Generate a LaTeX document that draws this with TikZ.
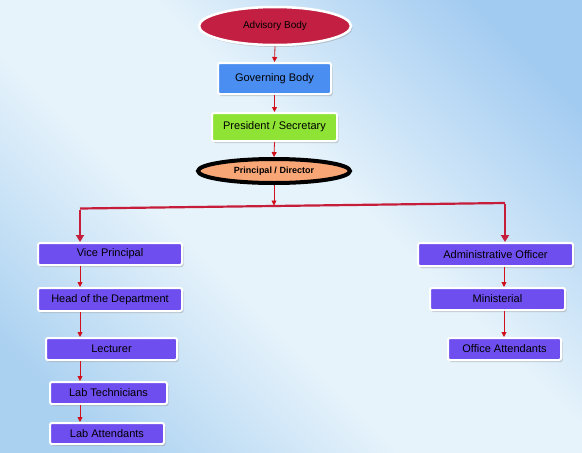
\documentclass[tikz,border=0pt]{standalone}
\usepackage{fontspec}
\setmainfont{Liberation Sans}
\usetikzlibrary{shapes.geometric,shadows,arrows.meta,calc}
\definecolor{bgdark}{HTML}{A2CBF1}
\definecolor{bglight}{HTML}{E6F3FB}
\definecolor{bgdark2}{HTML}{ABD1F1}
\definecolor{crim}{HTML}{C21F42}
\definecolor{govblue}{HTML}{4B8EF2}
\definecolor{presgreen}{HTML}{8EE335}
\definecolor{princorange}{HTML}{F9A677}
\definecolor{boxpurple}{HTML}{6E4EEF}
\definecolor{arrred}{HTML}{D0101A}
\definecolor{branchred}{HTML}{C51D3A}
\pgfdeclareverticalshading{bgshade}{100bp}{color(0bp)=(bgdark2); color(22bp)=(bgdark2); color(42bp)=(bglight); color(56bp)=(bglight); color(78bp)=(bgdark); color(100bp)=(bgdark)}
\tikzset{
  shadowed/.style={drop shadow={opacity=0.35,shadow xshift=1.5pt,shadow yshift=-2pt}},
  orgbox/.style={rectangle,rounded corners=2pt,draw=white,line width=2pt,inner sep=0pt,
    font=\fontsize{11}{13}\selectfont,text=black,shadowed},
  pbox/.style={orgbox,fill=boxpurple},
  thinarr/.style={draw=arrred,line width=0.8pt,-{Triangle[length=5pt,width=5pt]}},
  thickarr/.style={draw=branchred,line width=2.2pt,-{Triangle[length=7pt,width=8pt]}},
}
\begin{document}
\begin{tikzpicture}[x=1pt,y=-1pt]
\useasboundingbox (0,0) rectangle (582,453);
\begin{scope}
\clip (0,0) rectangle (582,453);
\shade[shading=bgshade,shading angle=-45] (0,0) rectangle (582,453);
\end{scope}

\node[ellipse,fill=crim,draw=white,line width=2.5pt,minimum width=152pt,minimum height=38pt,inner sep=0pt,
  font=\fontsize{10}{12}\selectfont,shadowed] (adv) at (275,26) {Advisory Body};
\node[orgbox,fill=govblue,minimum width=113pt,minimum height=31pt] (gov) at (274.5,78.5) {Governing Body};
\node[orgbox,fill=presgreen,minimum width=125pt,minimum height=28pt] (pres) at (274.5,127) {President / Secretary};
\node[ellipse,fill=princorange,draw=black,line width=4pt,minimum width=152pt,minimum height=24pt,inner sep=0pt,
  font=\bfseries\fontsize{9}{11}\selectfont] (prin) at (274,171) {Principal / Director};

\node[pbox,minimum width=144pt,minimum height=22pt] (vp) at (110,254) {Vice Principal};
\node[pbox,minimum width=144pt,minimum height=23pt] (hod) at (110,299.5) {Head of the Department};
\node[pbox,minimum width=131pt,minimum height=22pt] (lec) at (111.5,349) {Lecturer};
\node[pbox,minimum width=117pt,minimum height=22pt] (labt) at (108.5,393) {Lab Technicians};
\node[pbox,minimum width=114pt,minimum height=21pt] (laba) at (107,433.5) {Lab Attendants};

\node[pbox,minimum width=155pt,minimum height=23pt] (ao) at (495.5,254.5) {Administrative Officer};
\node[pbox,minimum width=135pt,minimum height=22pt] (min) at (497.5,299) {Ministerial};
\node[pbox,minimum width=113pt,minimum height=22pt] (oa) at (504.5,349) {Office Attendants};

\coordinate (jn) at (274,205.5);
\coordinate (lt) at (80,208.5);
\coordinate (rt) at (505,203);

\draw[thinarr] (adv.south) -- (gov.north);
\draw[thinarr] (gov.south) -- (pres.north);
\draw[thinarr] (pres.south) -- (prin.north);
\draw[thinarr] (prin.south) -- (jn);
\draw[draw=branchred,line width=2.2pt] (lt) -- (rt);
\draw[thickarr] ([yshift=-1.1pt]lt) -- (lt |- vp.north);
\draw[thickarr] ([yshift=-1.1pt]rt) -- (rt |- ao.north);

\draw[thinarr] (vp.south -| 80,0) -- (hod.north -| 80,0);
\draw[thinarr] (hod.south -| 80,0) -- (lec.north -| 80,0);
\draw[thinarr] (lec.south -| 80,0) -- (labt.north -| 80,0);
\draw[thinarr] (labt.south -| 80,0) -- (laba.north -| 80,0);

\draw[thinarr] (ao.south -| 504,0) -- (min.north -| 504,0);
\draw[thinarr] (min.south -| 504,0) -- (oa.north -| 504,0);
\end{tikzpicture}
\end{document}
